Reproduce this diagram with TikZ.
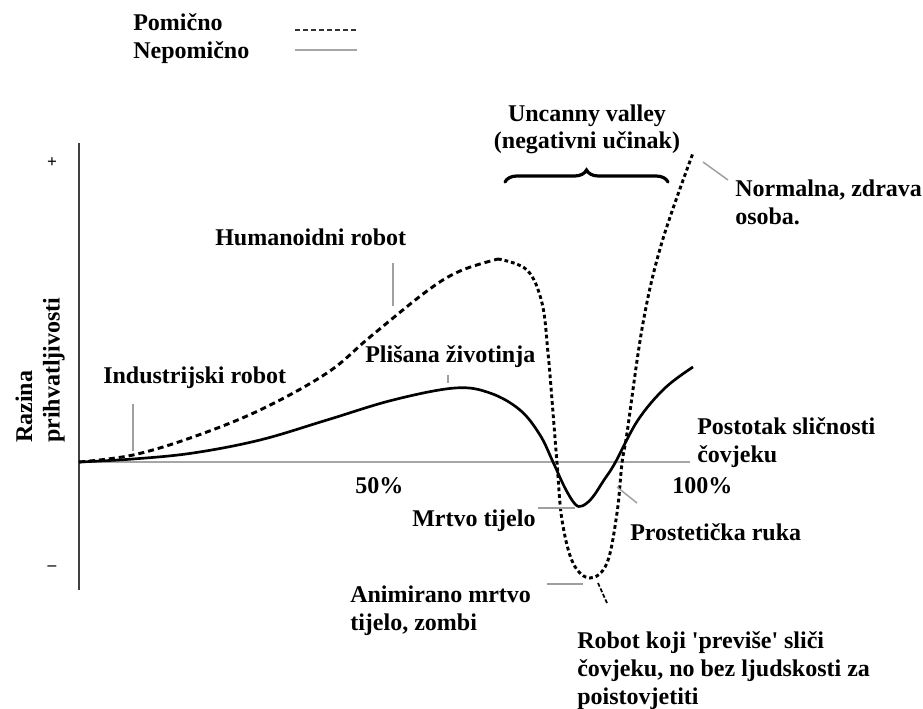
\documentclass[tikz,border=0pt]{standalone}
\usepackage{fontspec}
\setmainfont{Liberation Serif}
\usetikzlibrary{decorations.pathreplacing}
\tikzset{
  lbl/.style={font=\fontsize{18}{20.7}\selectfont\bfseries, inner sep=0pt, align=left, anchor=base west},
  signlbl/.style={font=\fontsize{13}{14}\selectfont\bfseries, inner sep=0pt},
  pointer/.style={gray!75, line width=1.1pt},
  movecurve/.style={line width=2.2pt, dash pattern=on 4.5pt off 3pt},
  movedots/.style={line width=2.2pt, dash pattern=on 2.8pt off 2.2pt},
  statcurve/.style={line width=2pt},
  vbrace/.style={decorate, decoration={brace, amplitude=9pt}, line width=2.4pt, line cap=round}
}
\begin{document}
\begin{tikzpicture}[x=0.75pt,y=-0.75pt]
 \useasboundingbox (0,0) rectangle (923,709);
 % legend
 \node[lbl] (pom) at (133,31) {Pomično};
 \node[lbl] (nepom) at (133,59) {Nepomično};
 \coordinate (pomA) at (295,30); \coordinate (pomB) at (357,30);
 \coordinate (nepA) at (295,50); \coordinate (nepB) at (357,50);
 \draw[line width=2.2pt, black!80, dash pattern=on 4pt off 2pt] (pomA) -- (pomB);
 \draw[line width=2pt, gray!70] (nepA) -- (nepB);
 % axes
 \coordinate (O) at (79,462);
 \coordinate (ytop) at (79,143);
 \coordinate (ybot) at (79,590);
 \coordinate (xend) at (690,462);
 \draw[line width=2pt, black!75] (ybot) -- (ytop);
 \draw[line width=1.8pt, gray!70] (O) -- (xend);
 \node[signlbl] (plus) at (52,163) {+};
 \node[signlbl] (minus) at (52,568) {--};
 \node[lbl, rotate=90, anchor=south west] (ylab) at (65,443) {Razina\\prihvatljivosti};
 \node[lbl] (xlab) at (697,462) {Postotak sličnosti\\čovjeku};
 \node[lbl] (half) at (355,493) {50\%};
 \node[lbl] (full) at (672,493) {100\%};
 % curves
 \draw[statcurve] plot[smooth, tension=0.6] coordinates {(79,462) (133,459) (193,453) (260,440) (327,420) (393,400) (455,388) (490,393) (520,410) (540,435) (553,462) (565,488) (575,504) (582,506) (592,498) (604,480) (615,463) (638,420) (665,388) (693,367)};
 \draw[movecurve] plot[smooth, tension=0.6] coordinates {(79,462) (133,455) (193,437) (260,410) (327,373) (370,337) (427,291) (460,271) (498,259)};
 \draw[movedots] plot[smooth, tension=0.6] coordinates {(498,259) (527,270) (542,303) (548,353) (552,400) (557,463) (562,520) (573,563) (590,578) (607,563) (617,513) (622,463) (627,433) (643,323) (662,242) (693,153)};
 % labels
 \node[lbl] (indus) at (103,383) {Industrijski robot};
 \node[lbl] (human) at (215,245) {Humanoidni robot};
 \node[lbl] (plush) at (365,362) {Plišana životinja};
 \node[lbl, align=center, anchor=base] (valley) at (587,149) {Uncanny valley\\(negativni učinak)};
 \node[lbl] (healthy) at (735,224) {Normalna, zdrava\\osoba.};
 \node[lbl] (corpse) at (412,526) {Mrtvo tijelo};
 \node[lbl] (hand) at (630,540) {Prostetička ruka};
 \node[lbl] (zombie) at (350,630) {Animirano mrtvo\\tijelo, zombi};
 \node[lbl] (android) at (577,704) {Robot koji \textquotesingle previše\textquotesingle\ sliči\\čovjeku, no bez ljudskosti za\\poistovjetiti};
 \draw[vbrace] (505,182) -- (668,182);
 % pointers
 \draw[pointer] (133,404) -- (133,451);
 \draw[pointer] (393,263) -- (393,306);
 \draw[pointer] (448,375) -- (448,383);
 \draw[pointer] (703,162) -- (728,180);
 \draw[pointer] (538,508) -- (575,508);
 \draw[pointer] (617,487) -- (637,503);
 \draw[pointer] (547,584) -- (583,584);
 \draw[line width=1.3pt, dash pattern=on 3pt off 1.5pt] (598,583) -- (607,603);
\end{tikzpicture}
\end{document}
